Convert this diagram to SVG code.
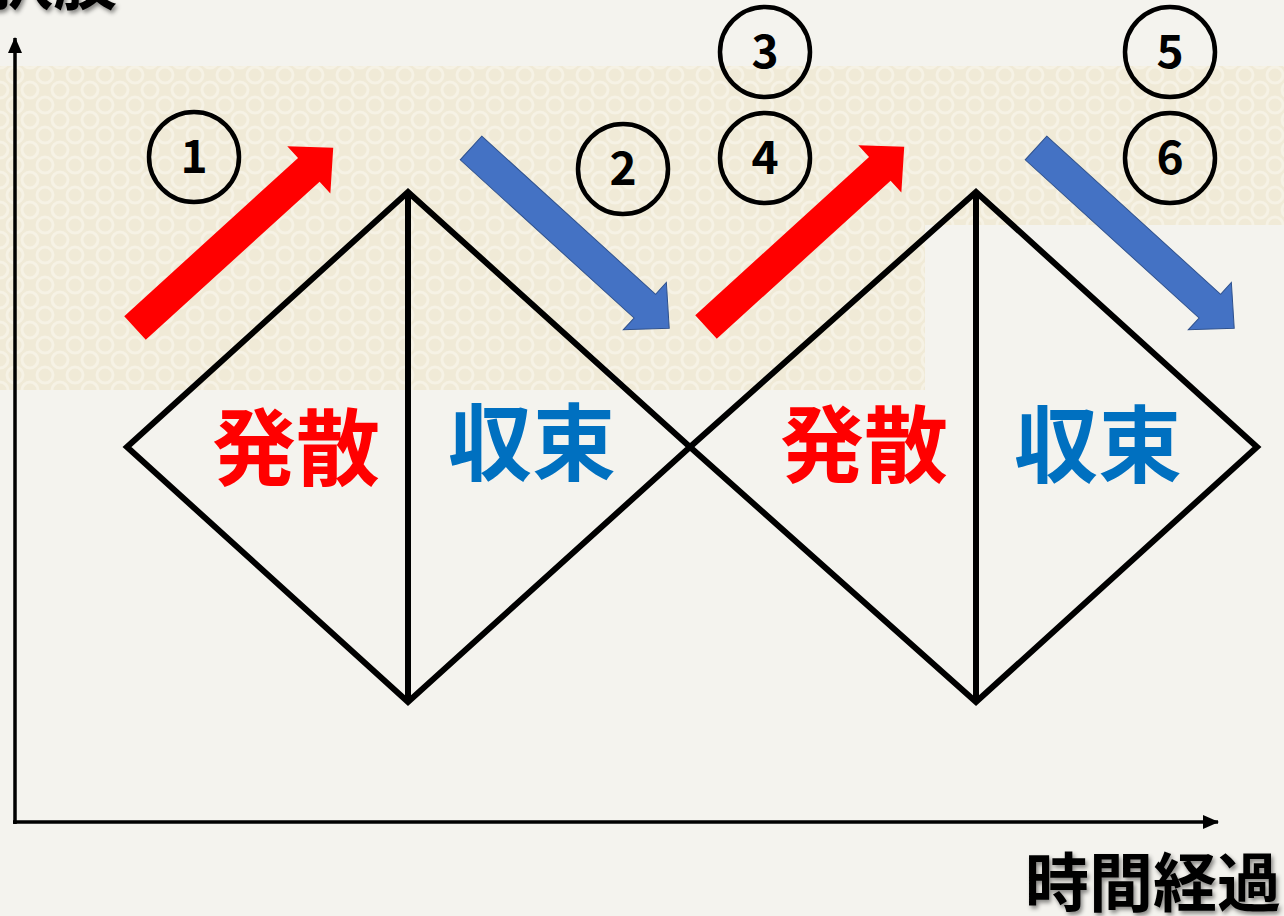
<svg xmlns="http://www.w3.org/2000/svg" width="1284" height="916" viewBox="0 0 1284 916">
<style>
.dia{fill:none;stroke:#000;stroke-width:6;stroke-linejoin:miter}
.axis{fill:none;stroke:#000;stroke-width:3.5}
.num circle{fill:none;stroke:#000;stroke-width:4.5}
.num text{font-family:"Noto Sans CJK JP","Noto Sans",sans-serif;font-size:46px;font-weight:700;text-anchor:middle;fill:#000}
.big{font-family:"Noto Sans CJK JP",sans-serif;font-size:84px;font-weight:700;text-anchor:middle}
.red{fill:#ff0000}
.blue{fill:#0070c0}
.up{fill:#ff0000}
.down{fill:#4472c4;stroke:#2f528f;stroke-width:1}
.lbl{font-family:"Noto Sans CJK JP",sans-serif;font-size:64px;font-weight:700;fill:#000}
</style>
<defs>
<pattern id="tex" width="30" height="30" patternUnits="userSpaceOnUse">
<rect width="30" height="30" fill="#f0ead7"/>
<circle cx="0" cy="0" r="8" fill="none" stroke="#f6f2e5" stroke-width="3"/>
<circle cx="30" cy="0" r="8" fill="none" stroke="#f6f2e5" stroke-width="3"/>
<circle cx="0" cy="30" r="8" fill="none" stroke="#f6f2e5" stroke-width="3"/>
<circle cx="30" cy="30" r="8" fill="none" stroke="#f6f2e5" stroke-width="3"/>
<circle cx="15" cy="15" r="8" fill="none" stroke="#f6f2e5" stroke-width="3"/>
</pattern>
<polygon id="arr" points="0,-16 235,-16 235,-32 268,0 235,32 235,16 0,16"/>
<marker id="ah" viewBox="0 0 16 14" refX="15" refY="7" markerWidth="16" markerHeight="14" markerUnits="userSpaceOnUse" orient="auto">
<path d="M0,0 L16,7 L0,14 Z" fill="#000"/>
</marker>
<filter id="sh" x="-10%" y="-10%" width="130%" height="140%">
<feDropShadow dx="2" dy="3" stdDeviation="2" flood-color="#000" flood-opacity="0.45"/>
</filter>
</defs>
<rect width="1284" height="916" fill="#f4f3ee"/>
<path d="M0,66 H1284 V225 H925 V390 H0 Z" fill="url(#tex)"/>

<g id="axes">
<line class="axis" x1="15" y1="824" x2="15" y2="38" marker-end="url(#ah)"/>
<line class="axis" x1="13" y1="822" x2="1218" y2="822" marker-end="url(#ah)"/>
</g>

<g id="diamond1">
<polygon class="dia" points="127,447 408,192 690,447 408,702"/>
<line class="dia" x1="408" y1="192" x2="408" y2="702"/>
</g>
<g id="diamond2">
<polygon class="dia" points="690,447 976,192 1257,447 976,702"/>
<line class="dia" x1="976" y1="192" x2="976" y2="702"/>
</g>

<g id="connectors">
<use href="#arr" class="up" transform="translate(135,328) rotate(-42.3)"/>
<use href="#arr" class="down" transform="translate(471,148) rotate(42.3)"/>
<use href="#arr" class="up" transform="translate(706,327) rotate(-42.3)"/>
<use href="#arr" class="down" transform="translate(1036,148) rotate(42.3)"/>
</g>

<g id="n1" class="num"><circle cx="194" cy="157" r="45"/><text x="194" y="173">1</text></g>
<g id="n2" class="num"><circle cx="623" cy="169" r="45"/><text x="623" y="185">2</text></g>
<g id="n3" class="num"><circle cx="765" cy="52" r="45"/><text x="765" y="68">3</text></g>
<g id="n4" class="num"><circle cx="765" cy="158" r="45"/><text x="765" y="174">4</text></g>
<g id="n5" class="num"><circle cx="1170" cy="52" r="45"/><text x="1170" y="68">5</text></g>
<g id="n6" class="num"><circle cx="1170" cy="158" r="45"/><text x="1170" y="174">6</text></g>

<g id="labels">
<text class="big red" x="296" y="479">発散</text>
<text class="big blue" x="532" y="474">収束</text>
<text class="big red" x="864" y="476">発散</text>
<text class="big blue" x="1098" y="476">収束</text>
</g>

<g id="axis-labels" filter="url(#sh)">
<text class="lbl" x="117" y="4" text-anchor="end">選択肢</text>
<text class="lbl" x="1281" y="906" text-anchor="end">時間経過</text>
</g>
</svg>
